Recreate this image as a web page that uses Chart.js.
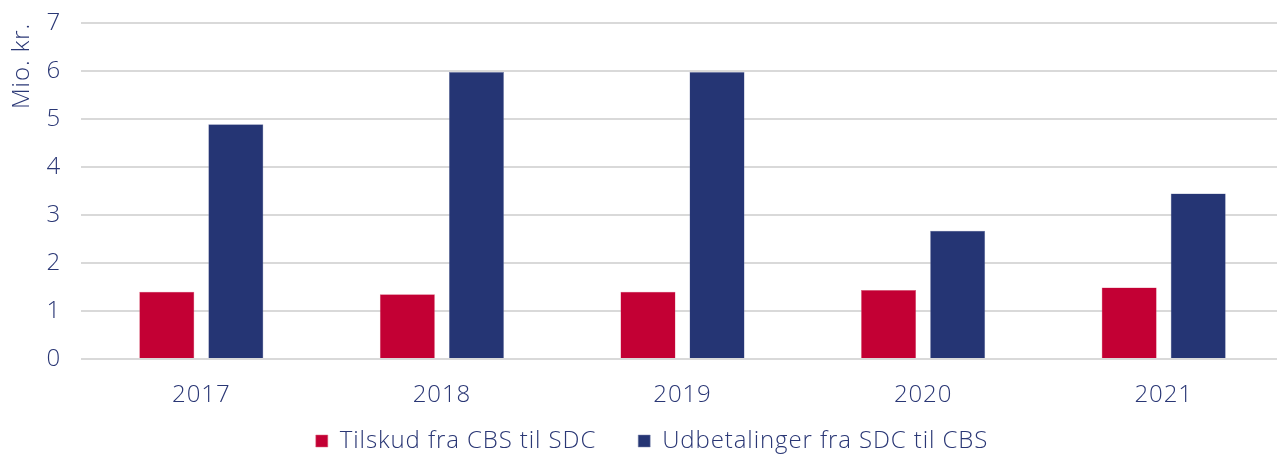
<!DOCTYPE html>
<html>
<head>
<meta charset="utf-8">
<script src="https://cdn.jsdelivr.net/npm/chart.js@4"></script>
<style>
html,body{margin:0;padding:0;background:#fff;overflow:hidden;}
#wrap{width:1284px;height:488px;}
</style>
</head>
<body>
<div id="wrap"><canvas id="c" width="1284" height="488"></canvas></div>
<script>
const categories = ["2017","2018","2019","2020","2021"];
const tilskud = [1.40, 1.35, 1.40, 1.44, 1.49];
const udbetalinger = [4.89, 5.98, 5.98, 2.67, 3.45];
const seriesNames = ["Tilskud fra CBS til SDC","Udbetalinger fra SDC til CBS"];
const yTitle = "Mio. kr.";

const textColor = "#2a3775";
const fontFam = "'Open Sans', Lato, sans-serif";
const fnt = {family:fontFam,size:24,weight:300};

const spacing = {
  id:'spacing',
  beforeLayout(chart){ chart.ctx.letterSpacing = '0.9px'; },
  beforeDraw(chart){ chart.ctx.letterSpacing = '0.9px'; },
  afterLayout(chart){
    const lg = chart.legend;
    if (lg){ lg.top -= 15; lg.bottom -= 15; lg.left += 10; lg.right += 10; }
  }
};

new Chart(document.getElementById('c'), {
  type: 'bar',
  data: {
    labels: categories,
    datasets: [
      {label: seriesNames[0], data: tilskud, backgroundColor: '#c30034', borderColor:'#d9667f', borderWidth:0.5, categoryPercentage:0.574, barPercentage:0.797},
      {label: seriesNames[1], data: udbetalinger, backgroundColor: '#253574', borderColor:'#7c86ad', borderWidth:0.5, categoryPercentage:0.574, barPercentage:0.797}
    ]
  },
  plugins:[spacing],
  options: {
    responsive:false,
    animation:false,
    layout:{padding:{top:23,left:0,right:0,bottom:10}},
    plugins:{
      legend:{
        position:'bottom',
        labels:{boxWidth:12, boxHeight:12, color:textColor, font:fnt, padding:42}
      },
      tooltip:{enabled:false}
    },
    scales:{
      x:{
        grid:{display:false},
        border:{display:false},
        ticks:{color:textColor, font:fnt, padding:14},
        afterFit(s){ s.height = 43; }
      },
      y:{
        min:0,max:7,
        ticks:{stepSize:1, color:textColor, font:fnt, padding:20},
        grid:{color:'#d9d9d9', lineWidth:2, drawTicks:false},
        border:{display:false},
        title:{display:true, text:yTitle, align:'end', color:textColor, font:fnt, padding:{top:8,bottom:4}},
        afterFit(s){ s.width = 81; s.paddingTop = 0; s.paddingBottom = 0; }
      }
    }
  }
});
</script>
</body>
</html>
